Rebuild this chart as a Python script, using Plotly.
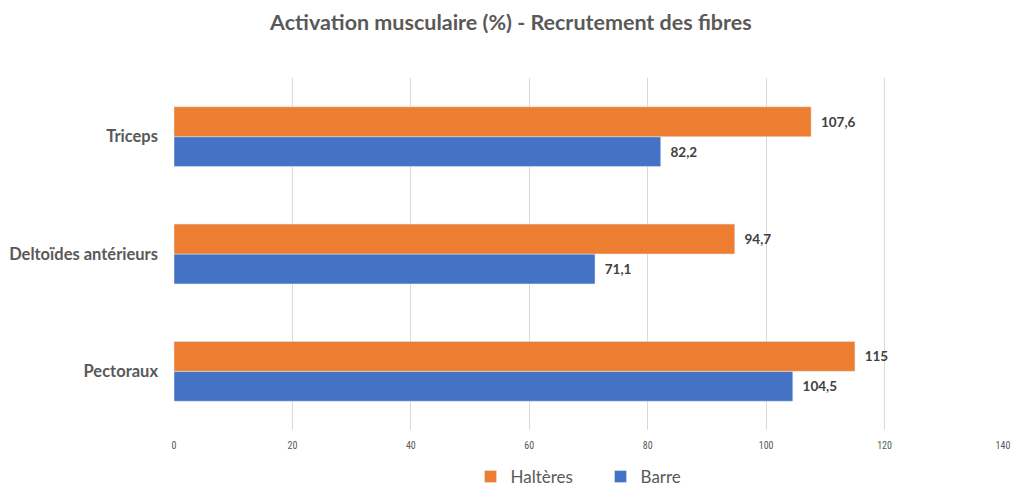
import plotly.graph_objects as go

categories = ["Pectoraux", "Deltoïdes antérieurs", "Triceps"]
halteres = [115, 94.7, 107.6]
barre = [104.5, 71.1, 82.2]
x_ticks = [0, 20, 40, 60, 80, 100, 120, 140]

label_font = dict(family="Lato, sans-serif", size=13.5, color="#404040", weight="bold")

fig = go.Figure()
fig.add_trace(go.Bar(
    y=categories, x=barre, name="Barre", orientation="h",
    marker=dict(color="#4472C4"), legendrank=2,
    texttemplate="\u2002%{x}", textposition="outside", cliponaxis=False,
    textfont=label_font,
))
fig.add_trace(go.Bar(
    y=categories, x=halteres, name="Haltères", orientation="h",
    marker=dict(color="#ED7D31"), legendrank=1,
    texttemplate="\u2002%{x}", textposition="outside", cliponaxis=False,
    textfont=label_font,
))

fig.update_layout(
    width=1016, height=489,
    paper_bgcolor="white", plot_bgcolor="white",
    separators=", ",
    barmode="group", bargap=0.49, bargroupgap=0,
    margin=dict(l=166, r=21, t=70, b=67, autoexpand=False),
    title=dict(text="<b>Activation musculaire (%) - Recrutement des fibres</b>",
               x=0.495, xanchor="center", y=0.971, yanchor="middle",
               font=dict(family="Lato, sans-serif", size=21.5, color="#595959")),
    font=dict(family="Lato, sans-serif", color="#595959"),
    legend=dict(orientation="h", x=0.5145, xanchor="center", y=-0.0824, yanchor="top",
                font=dict(family="Lato, sans-serif", size=17, color="#595959"),
                itemwidth=30, entrywidth=85, tracegroupgap=0),
    showlegend=True,
)
fig.update_xaxes(range=[0, 140], tickvals=x_ticks, showgrid=True, gridcolor="#D9D9D9",
                 gridwidth=1, zeroline=False, showline=False, automargin=False,
                 ticklabelstandoff=8,
                 tickfont=dict(family="Liberation Sans Narrow, Roboto Condensed, sans-serif", size=10, color="#595959"),
                 ticks="", ticklen=0)
fig.update_yaxes(showgrid=False, zeroline=False, showline=False, ticks="", ticklabelstandoff=15,
                 automargin=False,
                 tickfont=dict(family="Lato, sans-serif", size=16.5, color="#595959", weight="bold"))

fig.write_html("out.html")
